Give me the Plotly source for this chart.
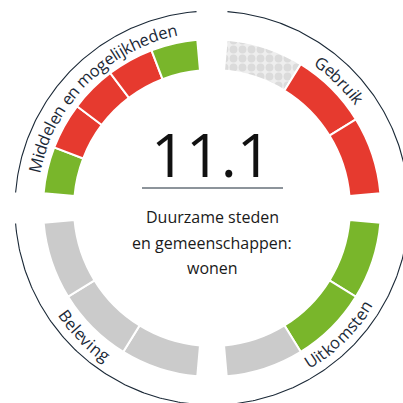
import numpy as np
import plotly.graph_objects as go

# ---- data -------------------------------------------------------------
indicator_code = "11.1"
indicator_title = ["Duurzame steden", "en gemeenschappen:", "wonen"]

quadrant_names = ["Gebruik", "Uitkomsten", "Beleving", "Middelen en mogelijkheden"]
# quadrant start angle (degrees clockwise from 12 o'clock)
quadrant_start = [0, 90, 180, 270]
# status of each indicator, listed clockwise within its quadrant
gebruik_status = ["geen data", "negatief", "negatief"]
uitkomsten_status = ["positief", "positief", "neutraal"]
beleving_status = ["neutraal", "neutraal", "neutraal"]
middelen_status = ["positief", "negatief", "negatief", "negatief", "positief"]
quadrant_status = [gebruik_status, uitkomsten_status, beleving_status, middelen_status]

status_colors = {
    "positief": "#79b62b",
    "negatief": "#e63a2f",
    "neutraal": "#cbcbcb",
    "geen data": "#ececec",
}

# ---- geometry (pixels) ------------------------------------------------
W = H = 403
CX, CY = 212, 208          # centre of the ring, from top-left
R_POLAR = 190              # radius of polar area
R_IN, R_OUT = 138, 169     # ring
R_ARC = 197                # thin outer arc
R_TEXT = 182               # quadrant labels
HALF_GAP = 5.0             # degrees between quadrants
ARC_HALF_GAP = 4.5

FONT = "Open Sans"
TEXT_COLOR = "#1b2937"

fig = go.Figure()

# ---- ring segments ----------------------------------------------------
for start, statuses in zip(quadrant_start, quadrant_status):
    span = 90 - 2 * HALF_GAP
    n = len(statuses)
    w = span / n
    thetas = [start + HALF_GAP + w * (i + 0.5) for i in range(n)]
    for th, st in zip(thetas, statuses):
        marker = dict(color=status_colors[st], line=dict(color="white", width=2))
        if st == "geen data":
            marker["pattern"] = dict(shape=".", fgcolor="#c8c8c8", bgcolor="#eeeeee",
                                     size=9, solidity=0.6)
        fig.add_trace(go.Barpolar(
            r=[R_OUT - R_IN], base=[R_IN], theta=[th], width=[w],
            marker=marker, showlegend=False, hoverinfo="skip",
        ))

# ---- thin outer arcs (cartesian overlay, 1 unit = 1 px) ---------------
for start in quadrant_start:
    phi = np.radians(np.linspace(start + ARC_HALF_GAP, start + 90 - ARC_HALF_GAP, 120))
    fig.add_trace(go.Scatter(
        x=R_ARC * np.sin(phi), y=R_ARC * np.cos(phi), mode="lines",
        line=dict(color=TEXT_COLOR, width=1.1), showlegend=False, hoverinfo="skip",
        xaxis="x", yaxis="y",
    ))

# horizontal rule under the code
fig.add_trace(go.Scatter(
    x=[142 - CX, 283 - CX], y=[CY - 188, CY - 188], mode="lines",
    line=dict(color=TEXT_COLOR, width=1), showlegend=False, hoverinfo="skip",
))

# ---- curved quadrant labels (one annotation per character) ------------
CHAR_W = {
    " ": 0.26, "a": 0.556, "b": 0.613, "c": 0.478, "d": 0.613, "e": 0.561,
    "g": 0.548, "h": 0.624, "i": 0.253, "j": 0.253, "k": 0.525, "l": 0.253,
    "m": 0.942, "n": 0.624, "o": 0.604, "r": 0.408, "s": 0.477, "t": 0.353,
    "u": 0.624, "v": 0.513, "w": 0.8, "z": 0.472, "B": 0.633, "G": 0.697,
    "M": 0.903, "U": 0.722, "D": 0.716,
}
LABEL_SIZE = 16.5
annotations = []


def curved_label(text, mid_deg, top_side):
    widths = [CHAR_W.get(c, 0.55) * LABEL_SIZE for c in text]
    total = sum(widths)
    pos = -total / 2
    for ch, wd in zip(text, widths):
        s = pos + wd / 2
        pos += wd
        if ch == " ":
            continue
        d = np.degrees(s / R_TEXT)
        phi = mid_deg + d if top_side else mid_deg - d
        rot = phi if top_side else phi - 180
        rot = (rot + 180) % 360 - 180
        p = np.radians(phi)
        annotations.append(dict(
            x=R_TEXT * np.sin(p), y=R_TEXT * np.cos(p), xref="x", yref="y",
            text=ch, showarrow=False, textangle=rot,
            xanchor="center", yanchor="middle",
            font=dict(family=FONT, size=LABEL_SIZE, color=TEXT_COLOR),
        ))


for name, start in zip(quadrant_names, quadrant_start):
    mid = start + 45
    curved_label(name, mid, top_side=(mid < 90 or mid > 270))

# ---- centre text ------------------------------------------------------
annotations.append(dict(
    x=211 - CX, y=CY - 153, xref="x", yref="y", text=indicator_code, showarrow=False,
    xanchor="center", yanchor="middle",
    font=dict(family=FONT, size=61, color="#111111"),
))
for line, ypix in zip(indicator_title, [217, 243, 268]):
    annotations.append(dict(
        x=212 - CX, y=CY - ypix, xref="x", yref="y", text=line, showarrow=False,
        xanchor="center", yanchor="middle",
        font=dict(family=FONT, size=16, color="#1a1a1a"),
    ))

fig.update_layout(
    width=W, height=H, margin=dict(l=0, r=0, t=0, b=0),
    paper_bgcolor="white", plot_bgcolor="rgba(0,0,0,0)",
    showlegend=False,
    polar=dict(
        domain=dict(x=[(CX - R_POLAR) / W, (CX + R_POLAR) / W],
                    y=[(H - CY - R_POLAR) / H, (H - CY + R_POLAR) / H]),
        bgcolor="rgba(0,0,0,0)",
        radialaxis=dict(range=[0, R_POLAR], visible=False),
        angularaxis=dict(rotation=90, direction="clockwise", visible=False,
                         showgrid=False),
        barmode="overlay",
    ),
    xaxis=dict(range=[-CX, W - CX], domain=[0, 1], visible=False, fixedrange=True),
    yaxis=dict(range=[CY - H, CY], domain=[0, 1], visible=False, fixedrange=True),
    annotations=annotations,
)

fig.write_html("out.html")
